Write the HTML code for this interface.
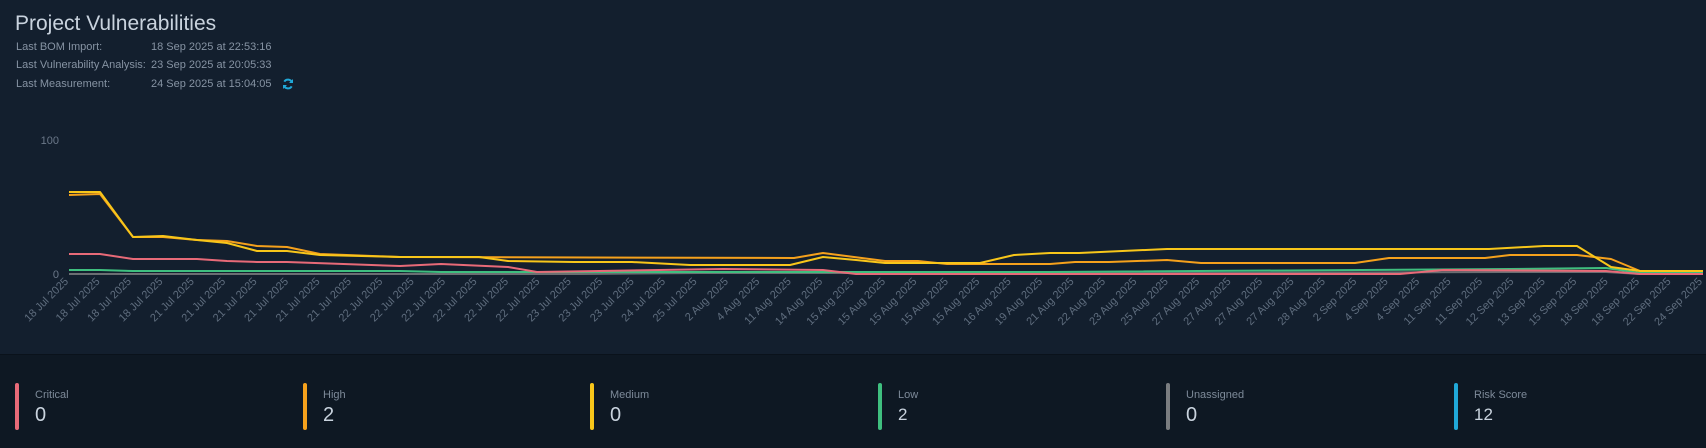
<!DOCTYPE html>
<html><head><meta charset="utf-8"><style>
body{margin:0;width:1706px;height:447px;overflow:hidden;background:#131f2e;font-family:"Liberation Sans",sans-serif;position:relative}
.top{position:absolute;left:0;top:0;width:1706px;height:354px;background:#131f2e}
.bot{position:absolute;left:0;top:354px;width:1706px;height:93px;background:#0e1823;border-top:1px solid #0a121b}
.t{position:absolute;left:15px;top:12px;font-size:21px;color:#c9d3de}
.m{position:absolute;left:16px;font-size:11px;color:#8693a3}
.v{position:absolute;left:151px;font-size:11px;color:#8693a3}
.card{position:absolute;top:383px;height:47px}
.bar{position:absolute;left:0;top:0;width:4px;height:47px;border-radius:2px}
.lab{position:absolute;left:20px;top:6px;font-size:11px;color:#7d8a99;white-space:nowrap}
.val{position:absolute;left:20px;top:21px;font-size:20px;color:#c9d3de}
.val.s{font-size:17px;top:22px}
svg text{font-family:"Liberation Sans",sans-serif}
</style></head><body>
<div class="top"></div>
<div class="t">Project Vulnerabilities</div>
<div class="m" style="top:41px">Last BOM Import:</div><div class="v" style="top:41px">18 Sep 2025 at 22:53:16</div>
<div class="m" style="top:59px">Last Vulnerability Analysis:</div><div class="v" style="top:59px">23 Sep 2025 at 20:05:33</div>
<div class="m" style="top:78px">Last Measurement:</div><div class="v" style="top:78px">24 Sep 2025 at 15:04:05</div>
<svg style="position:absolute;left:282px;top:78px" width="12" height="12" viewBox="0 0 12 12"><path d="M10 4.5A4.3 4.3 0 0 0 2.3 3.6M2 7.5a4.3 4.3 0 0 0 7.7.9" fill="none" stroke="#20a8d8" stroke-width="2"/><path d="M11 1v4H7z M1 11V7h4z" fill="#20a8d8"/></svg>
<svg style="position:absolute;left:0;top:0" width="1706" height="354">
<text x="59" y="144" font-size="11" fill="#6b7889" text-anchor="end">100</text>
<text x="59" y="278" font-size="11" fill="#6b7889" text-anchor="end">0</text>
<g fill="none" stroke-width="2" stroke-linejoin="round">
<polyline stroke="#6b6e72" points="69,274 580,274 700,273 1050,273 1200,273 1500,272 1606,272 1640,274 1703,274"/>
<polyline stroke="#3fbf7f" points="69,270 100,270 133,271 400,271 441,272 1050,272 1510,269 1606,268 1640,273 1703,273"/>
<polyline stroke="#e86a78" points="69,254 100,254 133,259 197,259 227,261 257,262 287,262 400,266 441,264 508,267 537,272 599,271 723,269 823,270 856,274 1400,274 1443,270 1606,271 1640,274 1703,274"/>
<polyline stroke="#f5a11c" points="69,195 100,194 133,237 163,237 197,240 227,241 257,246 287,247 320,254 400,257 794,258 823,253 885,261 918,261 947,264 1050,264 1075,262 1109,262 1167,260 1201,263 1355,263 1389,258 1485,258 1510,255 1577,255 1611,259 1640,271 1703,271"/>
<polyline stroke="#f8c61a" points="69,192 100,192 133,237 163,236 197,240 227,243 257,251 287,251 320,255 400,257 479,257 508,261 574,262 632,262 690,265 790,265 823,257 856,260 885,263 947,263 980,263 1014,255 1050,253 1079,253 1167,249 1489,249 1544,246 1577,246 1611,267 1640,271 1703,271"/>
</g>
<g font-size="11" fill="#5f6d7e" text-anchor="end">
<text transform="translate(69,282) rotate(-45)">18 Jul 2025</text>
<text transform="translate(100.4,282) rotate(-45)">18 Jul 2025</text>
<text transform="translate(131.8,282) rotate(-45)">18 Jul 2025</text>
<text transform="translate(163.3,282) rotate(-45)">18 Jul 2025</text>
<text transform="translate(194.7,282) rotate(-45)">21 Jul 2025</text>
<text transform="translate(226.1,282) rotate(-45)">21 Jul 2025</text>
<text transform="translate(257.5,282) rotate(-45)">21 Jul 2025</text>
<text transform="translate(288.9,282) rotate(-45)">21 Jul 2025</text>
<text transform="translate(320.4,282) rotate(-45)">21 Jul 2025</text>
<text transform="translate(351.8,282) rotate(-45)">21 Jul 2025</text>
<text transform="translate(383.2,282) rotate(-45)">22 Jul 2025</text>
<text transform="translate(414.6,282) rotate(-45)">22 Jul 2025</text>
<text transform="translate(446,282) rotate(-45)">22 Jul 2025</text>
<text transform="translate(477.5,282) rotate(-45)">22 Jul 2025</text>
<text transform="translate(508.9,282) rotate(-45)">22 Jul 2025</text>
<text transform="translate(540.3,282) rotate(-45)">22 Jul 2025</text>
<text transform="translate(571.7,282) rotate(-45)">23 Jul 2025</text>
<text transform="translate(603.1,282) rotate(-45)">23 Jul 2025</text>
<text transform="translate(634.6,282) rotate(-45)">23 Jul 2025</text>
<text transform="translate(666,282) rotate(-45)">24 Jul 2025</text>
<text transform="translate(697.4,282) rotate(-45)">25 Jul 2025</text>
<text transform="translate(728.8,282) rotate(-45)">2 Aug 2025</text>
<text transform="translate(760.2,282) rotate(-45)">4 Aug 2025</text>
<text transform="translate(791.7,282) rotate(-45)">11 Aug 2025</text>
<text transform="translate(823.1,282) rotate(-45)">14 Aug 2025</text>
<text transform="translate(854.5,282) rotate(-45)">15 Aug 2025</text>
<text transform="translate(885.9,282) rotate(-45)">15 Aug 2025</text>
<text transform="translate(917.3,282) rotate(-45)">15 Aug 2025</text>
<text transform="translate(948.8,282) rotate(-45)">15 Aug 2025</text>
<text transform="translate(980.2,282) rotate(-45)">15 Aug 2025</text>
<text transform="translate(1011.6,282) rotate(-45)">16 Aug 2025</text>
<text transform="translate(1043,282) rotate(-45)">19 Aug 2025</text>
<text transform="translate(1074.4,282) rotate(-45)">21 Aug 2025</text>
<text transform="translate(1105.9,282) rotate(-45)">22 Aug 2025</text>
<text transform="translate(1137.3,282) rotate(-45)">23 Aug 2025</text>
<text transform="translate(1168.7,282) rotate(-45)">25 Aug 2025</text>
<text transform="translate(1200.1,282) rotate(-45)">27 Aug 2025</text>
<text transform="translate(1231.5,282) rotate(-45)">27 Aug 2025</text>
<text transform="translate(1263,282) rotate(-45)">27 Aug 2025</text>
<text transform="translate(1294.4,282) rotate(-45)">27 Aug 2025</text>
<text transform="translate(1325.8,282) rotate(-45)">28 Aug 2025</text>
<text transform="translate(1357.2,282) rotate(-45)">2 Sep 2025</text>
<text transform="translate(1388.6,282) rotate(-45)">4 Sep 2025</text>
<text transform="translate(1420.1,282) rotate(-45)">4 Sep 2025</text>
<text transform="translate(1451.5,282) rotate(-45)">11 Sep 2025</text>
<text transform="translate(1482.9,282) rotate(-45)">11 Sep 2025</text>
<text transform="translate(1514.3,282) rotate(-45)">12 Sep 2025</text>
<text transform="translate(1545.7,282) rotate(-45)">13 Sep 2025</text>
<text transform="translate(1577.2,282) rotate(-45)">15 Sep 2025</text>
<text transform="translate(1608.6,282) rotate(-45)">18 Sep 2025</text>
<text transform="translate(1640,282) rotate(-45)">18 Sep 2025</text>
<text transform="translate(1671.4,282) rotate(-45)">22 Sep 2025</text>
<text transform="translate(1702.8,282) rotate(-45)">24 Sep 2025</text>
</g>
</svg>
<div class="bot"></div>
<div class="card" style="left:15px"><div class="bar" style="background:#e86a78"></div><div class="lab">Critical</div><div class="val">0</div></div>
<div class="card" style="left:303px"><div class="bar" style="background:#f5a11c"></div><div class="lab">High</div><div class="val">2</div></div>
<div class="card" style="left:590px"><div class="bar" style="background:#f8c61a"></div><div class="lab">Medium</div><div class="val">0</div></div>
<div class="card" style="left:878px"><div class="bar" style="background:#3fbf7f"></div><div class="lab">Low</div><div class="val s">2</div></div>
<div class="card" style="left:1166px"><div class="bar" style="background:#7a7d80"></div><div class="lab">Unassigned</div><div class="val">0</div></div>
<div class="card" style="left:1454px"><div class="bar" style="background:#20a8d8"></div><div class="lab">Risk Score</div><div class="val s">12</div></div>
</body></html>
